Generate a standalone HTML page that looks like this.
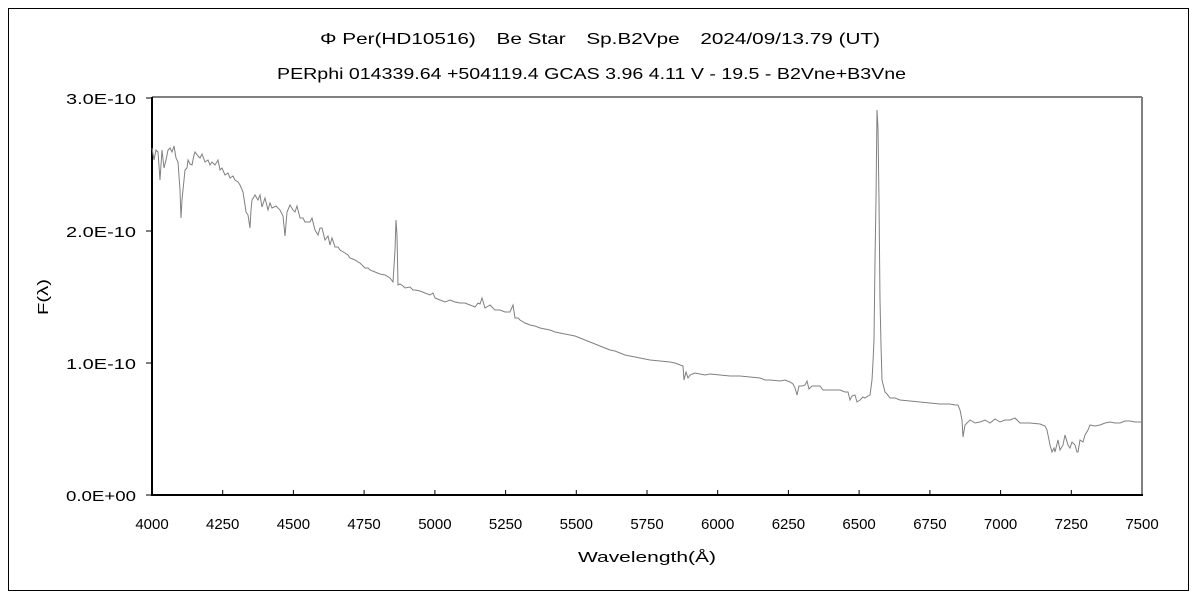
<!DOCTYPE html>
<html><head><meta charset="utf-8"><style>
body{margin:0;background:#fff}
svg text{font-family:"Liberation Sans","Noto Sans CJK JP",sans-serif;fill:#000}
</style></head><body>
<svg width="1200" height="600" xmlns="http://www.w3.org/2000/svg">
<rect x="0" y="0" width="1200" height="600" fill="#fff"/>
<rect x="8.5" y="8.5" width="1180" height="582" fill="none" stroke="#000" stroke-width="1"/>
<text x="320" y="44" font-size="16" textLength="560" lengthAdjust="spacingAndGlyphs">Φ Per(HD10516)　Be Star　Sp.B2Vpe　2024/09/13.79 (UT)</text>
<text x="277" y="79" font-size="16" textLength="629" lengthAdjust="spacingAndGlyphs">PERphi 014339.64 +504119.4 GCAS 3.96 4.11 V - 19.5 - B2Vne+B3Vne</text>
<line x1="152" y1="97" x2="1142" y2="97" stroke="#808080" stroke-width="2"/>
<line x1="1142" y1="97" x2="1142" y2="495" stroke="#808080" stroke-width="2"/>
<line x1="152" y1="97" x2="152" y2="496" stroke="#000" stroke-width="2"/>
<line x1="151" y1="495" x2="1143" y2="495" stroke="#000" stroke-width="2"/>
<g stroke="#000" stroke-width="1">
<line x1="146" y1="98" x2="152" y2="98"/><line x1="146" y1="231" x2="152" y2="231"/><line x1="146" y1="363" x2="152" y2="363"/><line x1="146" y1="495" x2="152" y2="495"/>
<line x1="222.7" y1="495" x2="222.7" y2="490"/><line x1="293.4" y1="495" x2="293.4" y2="490"/><line x1="364.1" y1="495" x2="364.1" y2="490"/><line x1="434.9" y1="495" x2="434.9" y2="490"/><line x1="505.6" y1="495" x2="505.6" y2="490"/><line x1="576.3" y1="495" x2="576.3" y2="490"/><line x1="647" y1="495" x2="647" y2="490"/><line x1="717.7" y1="495" x2="717.7" y2="490"/><line x1="788.4" y1="495" x2="788.4" y2="490"/><line x1="859.1" y1="495" x2="859.1" y2="490"/><line x1="929.9" y1="495" x2="929.9" y2="490"/><line x1="1000.6" y1="495" x2="1000.6" y2="490"/><line x1="1071.3" y1="495" x2="1071.3" y2="490"/>
</g>
<g font-size="15">
<text x="66" y="104" textLength="70" lengthAdjust="spacingAndGlyphs">3.0E-10</text><text x="66" y="237" textLength="70" lengthAdjust="spacingAndGlyphs">2.0E-10</text><text x="66" y="369" textLength="70" lengthAdjust="spacingAndGlyphs">1.0E-10</text><text x="66" y="501" textLength="70" lengthAdjust="spacingAndGlyphs">0.0E+00</text>
</g>
<g font-size="15" text-anchor="middle">
<text x="152" y="529">4000</text><text x="222.7" y="529">4250</text><text x="293.4" y="529">4500</text><text x="364.1" y="529">4750</text><text x="434.9" y="529">5000</text><text x="505.6" y="529">5250</text><text x="576.3" y="529">5500</text><text x="647" y="529">5750</text><text x="717.7" y="529">6000</text><text x="788.4" y="529">6250</text><text x="859.1" y="529">6500</text><text x="929.9" y="529">6750</text><text x="1000.6" y="529">7000</text><text x="1071.3" y="529">7250</text><text x="1142" y="529">7500</text>
</g>
<text x="578" y="562" font-size="15" textLength="138" lengthAdjust="spacingAndGlyphs">Wavelength(Å)</text>
<text x="-18" y="5" font-size="15" textLength="36" lengthAdjust="spacingAndGlyphs" transform="translate(43,297) rotate(-90)">F(λ)</text>
<polyline fill="none" stroke="#808080" stroke-width="1" points="152,148 154,160 156,150 158,152 160,180 162,150 164,168 166,160 168,150 170,148 172,152 174,146 176,158 178,162 180,190 181,218 182,200 184,180 185,170 187,168 188,160 190,164 192,165 194,155 195,152 198,156 200,158 202,154 205,162 208,160 210,165 212,162 215,165 218,160 220,170 222,168 225,175 228,173 230,178 233,176 235,180 238,182 240,185 243,192 245,205 246,212 248,215 250,228 251,210 252,200 255,195 258,200 260,195 262,207 265,198 268,210 270,203 272,208 276,206 280,210 283,216 285,236 287,212 290,205 293,210 295,212 297,206 300,218 303,218 305,222 310,222 312,218 315,230 318,235 320,228 322,228 325,240 328,236 330,245 332,238 335,247 338,247 340,250 345,253 348,255 350,258 355,260 358,262 360,263 365,268 368,268 370,270 375,272 380,274 385,275 390,278 393,282 395,250 396,220 397,235 398,285 400,284 403,286 405,288 410,287 413,290 415,290 420,291 425,293 430,295 433,293 435,298 440,300 445,302 450,300 455,302 460,303 465,303 470,305 475,307 478,303 480,304 482,298 485,308 490,305 495,310 500,310 505,312 510,312 513,305 515,318 518,318 520,320 525,323 530,325 535,326 540,328 545,329 550,330 555,332 560,333 565,334 570,335 575,336 580,338 585,340 590,342 595,344 600,346 605,348 610,350 615,351 620,353 625,355 630,356 635,357 640,358 645,359 650,360 660,361 670,362 675,363 683,366 684,380 686,372 688,378 690,375 695,373 700,374 705,375 710,374 720,375 730,376 740,376 750,377 760,378 765,380 770,380 780,381 785,380 790,382 793,384 795,388 797,395 799,386 802,386 805,385 807,381 809,389 812,386 820,386 823,390 825,390 830,390 835,390 840,390 845,392 848,392 850,400 852,396 855,395 857,402 860,400 863,397 865,398 868,396 870,395 872,380 873,362 874,340 875,260 876,200 877,110 878,128 879,200 880,300 881,345 882,380 884,388 885,392 887,394 890,398 895,398 900,400 910,401 920,402 930,403 940,404 950,404 955,405 958,405 960,410 962,420 963,437 965,425 968,422 970,420 975,423 980,422 985,420 990,423 995,419 1000,422 1005,420 1010,420 1015,418 1020,423 1030,423 1040,424 1045,426 1047,430 1049,440 1050,445 1052,452 1054,448 1055,452 1056,448 1058,440 1060,450 1063,445 1065,435 1068,445 1070,448 1072,442 1075,445 1077,452 1078,452 1080,440 1083,442 1085,435 1088,430 1090,425 1095,426 1100,425 1105,423 1110,422 1115,423 1120,423 1125,421 1130,421 1135,422 1142,422"/>
</svg>
</body></html>
